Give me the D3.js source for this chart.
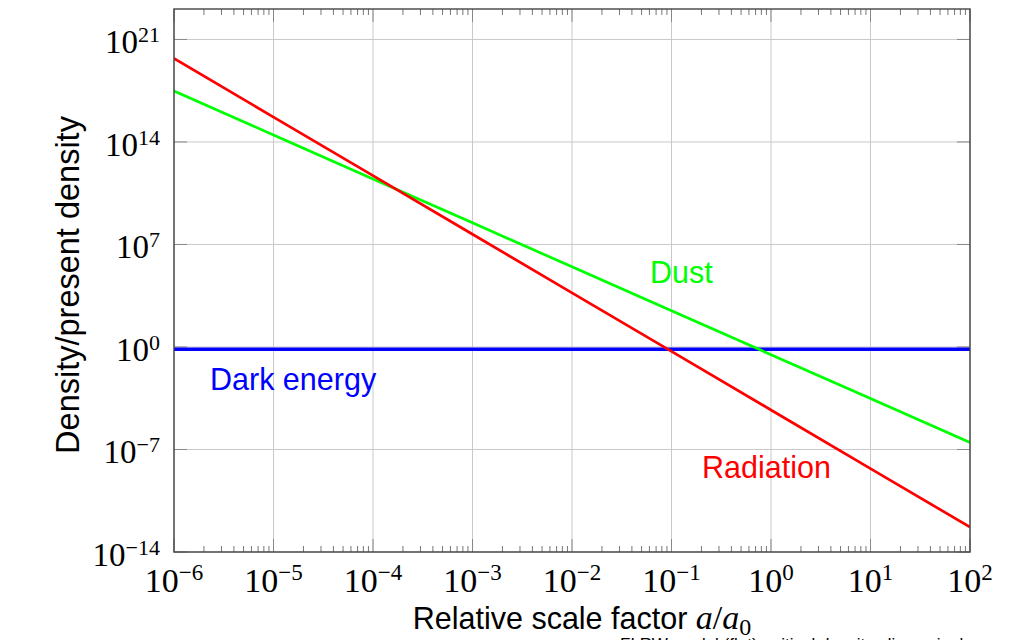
<!DOCTYPE html>
<html><head><meta charset="utf-8">
<script src="https://cdn.jsdelivr.net/npm/d3@7"></script>
<style>body{margin:0;background:#fff}svg{display:block}</style>
</head><body>
<svg id="chart" width="1019" height="640"></svg>
<script>
// Data
const scaleFactors = [1e-6, 1e-5, 1e-4, 1e-3, 1e-2, 1e-1, 1e0, 1e1, 1e2];
const radiation = [5e19, 5e15, 5e11, 5e7, 5e3, 0.5, 5e-5, 5e-9, 5e-13];
const dust = [3e17, 3e14, 3e11, 3e8, 3e5, 300, 0.3, 3e-4, 3e-7];
const darkEnergy = [0.7, 0.7, 0.7, 0.7, 0.7, 0.7, 0.7, 0.7, 0.7];
const xTickExps = [-6, -5, -4, -3, -2, -1, 0, 1, 2];
const yTickExps = [-14, -7, 0, 7, 14, 21];
const seriesNames = ["Radiation", "Dust", "Dark energy"];
const seriesColors = ["#ff0000", "#00ff00", "#0000ff"];

const svg = d3.select("#chart");
const L = 174, R = 970, T = 9, B = 552;
const x = d3.scaleLog().domain([1e-6, 1e2]).range([L, R]);
const y = d3.scaleLog().domain([1e-14, Math.pow(10, 23.08)]).range([B, T]);

// grid
const g = svg.append("g");
g.selectAll(".gx").data(xTickExps).enter().append("line")
  .attr("x1", d => x(Math.pow(10, d))).attr("x2", d => x(Math.pow(10, d)))
  .attr("y1", T).attr("y2", B).attr("stroke", "#c9c9c9").attr("stroke-width", 1);
g.selectAll(".gy").data(yTickExps).enter().append("line")
  .attr("y1", d => y(Math.pow(10, d))).attr("y2", d => y(Math.pow(10, d)))
  .attr("x1", L).attr("x2", R).attr("stroke", "#c9c9c9").attr("stroke-width", 1);

// minor x ticks (bottom and top)
const minors = [];
xTickExps.slice(0, -1).forEach(e => { for (let k = 2; k <= 9; k++) minors.push(k * Math.pow(10, e)); });
g.selectAll(".mb").data(minors).enter().append("line")
  .attr("x1", d => x(d)).attr("x2", d => x(d)).attr("y1", B).attr("y2", B - 6)
  .attr("stroke", "#777").attr("stroke-width", 1);
g.selectAll(".mt").data(minors).enter().append("line")
  .attr("x1", d => x(d)).attr("x2", d => x(d)).attr("y1", T).attr("y2", T + 6)
  .attr("stroke", "#777").attr("stroke-width", 1);
// major y ticks left and right
g.selectAll(".yl").data(yTickExps).enter().append("line")
  .attr("y1", d => y(Math.pow(10, d))).attr("y2", d => y(Math.pow(10, d)))
  .attr("x1", L).attr("x2", L + 13).attr("stroke", "#888").attr("stroke-width", 1);
g.selectAll(".yr").data(yTickExps).enter().append("line")
  .attr("y1", d => y(Math.pow(10, d))).attr("y2", d => y(Math.pow(10, d)))
  .attr("x1", R).attr("x2", R - 13).attr("stroke", "#888").attr("stroke-width", 1);
// major x ticks
g.selectAll(".xb").data(xTickExps).enter().append("line")
  .attr("x1", d => x(Math.pow(10, d))).attr("x2", d => x(Math.pow(10, d)))
  .attr("y1", B).attr("y2", B - 13).attr("stroke", "#888").attr("stroke-width", 1);
g.selectAll(".xt").data(xTickExps).enter().append("line")
  .attr("x1", d => x(Math.pow(10, d))).attr("x2", d => x(Math.pow(10, d)))
  .attr("y1", T).attr("y2", T + 13).attr("stroke", "#888").attr("stroke-width", 1);

// lines
svg.append("clipPath").attr("id", "clip").append("rect")
  .attr("x", L).attr("y", T).attr("width", R - L).attr("height", B - T);
const line = d3.line().x(d => x(d[0])).y(d => y(d[1]));
const series = [radiation, dust, darkEnergy];
const widths = [2.7, 2.7, 3.4];
const plot = svg.append("g").attr("clip-path", "url(#clip)");
[2, 1, 0].forEach(i => {
  plot.append("path").datum(scaleFactors.map((a, j) => [a, series[i][j]]))
    .attr("d", line).attr("fill", "none")
    .attr("stroke", seriesColors[i]).attr("stroke-width", widths[i]);
});

// frame
svg.append("rect").attr("x", L).attr("y", T).attr("width", R - L).attr("height", B - T)
  .attr("fill", "none").attr("stroke", "#444").attr("stroke-width", 1.4);

// tick labels
const serif = "'Liberation Serif','DejaVu Serif',serif";
xTickExps.forEach(e => {
  const t = svg.append("text").attr("x", x(Math.pow(10, e))).attr("y", 592)
    .attr("text-anchor", "middle").attr("font-family", serif).attr("font-size", 34).attr("fill", "#000");
  t.append("tspan").text("10");
  t.append("tspan").attr("dy", -12).attr("font-size", 23).text(String(e).replace("-", "\u2212"));
});
yTickExps.forEach(e => {
  const t = svg.append("text").attr("x", 160).attr("y", y(Math.pow(10, e)) + 14)
    .attr("text-anchor", "end").attr("font-family", serif).attr("font-size", 33).attr("fill", "#000");
  t.append("tspan").text("10");
  t.append("tspan").attr("dy", -11).attr("font-size", 22).text(String(e).replace("-", "\u2212"));
});

// axis titles
const sans = "'Liberation Sans',Arial,Helvetica,sans-serif";
const xl = svg.append("text").attr("x", 582).attr("y", 629).attr("text-anchor", "middle")
  .attr("font-family", sans).attr("font-size", 30.5).attr("fill", "#000");
xl.append("tspan").text("Relative scale factor ");
xl.append("tspan").attr("font-family", serif).attr("font-style", "italic").attr("font-size", 34).text("a");
xl.append("tspan").attr("font-family", serif).attr("font-size", 34).text("/");
xl.append("tspan").attr("font-family", serif).attr("font-style", "italic").attr("font-size", 34).text("a");
xl.append("tspan").attr("font-family", serif).attr("font-size", 24).attr("dy", 6).text("0");

svg.append("text").attr("transform", "translate(79,285) rotate(-90)")
  .attr("text-anchor", "middle").attr("font-family", sans).attr("font-size", 32.5)
  .attr("fill", "#000").text("Density/present density");

// series labels
const labelPos = [[702, 478], [650, 283], [210, 390]];
[0, 1, 2].forEach(i => {
  svg.append("text").attr("x", labelPos[i][0]).attr("y", labelPos[i][1])
    .attr("font-family", sans).attr("font-size", 30.5).attr("fill", seriesColors[i]).text(seriesNames[i]);
});

// caption at the bottom edge, mostly outside the picture as in the reference
svg.append("text").attr("x", 620).attr("y", 650).attr("font-family", sans).attr("font-size", 17)
  .attr("fill", "#000").text("FLRW model (flat), critical density, dimensionless comparison");
</script>
</body></html>
